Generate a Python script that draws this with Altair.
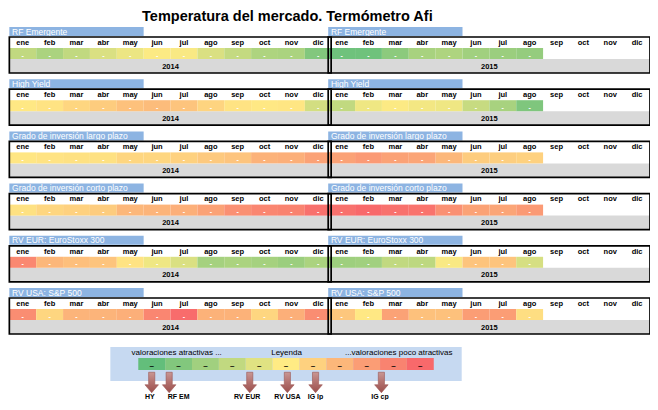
import altair as alt
import pandas as pd

# ---------------- data ----------------
months = ["ene", "feb", "mar", "abr", "may", "jun", "jul", "ago", "sep", "oct", "nov", "dic"]
years = ["2014", "2015"]
series = [
    "RF Emergente",
    "High Yield",
    "Grado de inversión largo plazo",
    "Grado de inversión corto plazo",
    "RV EUR: EuroStoxx 300",
    "RV USA: S&P 500",
]

# temperature level: 1 = very attractive (green) ... 6 = neutral (yellow) ... 11 = unattractive (red)
rf_em_2014 = [4.0, 3.3, 4.0, 4.8, 5.4, 5.9, 5.8, 4.8, 4.1, 3.4, 3.3, 2.0]
rf_em_2015 = [1.4, 1.4, 2.3, 3.2, 3.4, 3.0, 2.8, 2.6]
hy_2014 = [6.1, 6.3, 6.8, 7.2, 7.6, 7.8, 7.5, 6.9, 6.3, 6.1, 6.2, 4.6]
hy_2015 = [4.0, 5.5, 5.9, 5.6, 5.5, 4.2, 3.2, 1.9]
iglp_2014 = [6.2, 6.3, 6.4, 6.4, 6.8, 6.8, 7.0, 7.3, 7.5, 8.2, 8.3, 8.8]
iglp_2015 = [8.8, 9.1, 8.8, 8.7, 8.0, 7.2, 7.1, 7.0]
igcp_2014 = [6.4, 6.8, 7.0, 7.2, 8.0, 8.1, 8.3, 8.8, 9.5, 9.9, 10.0, 10.7]
igcp_2015 = [10.7, 11.0, 10.7, 10.6, 9.5, 8.8, 8.7, 9.1]
rveur_2014 = [9.8, 8.0, 7.7, 7.5, 6.3, 5.5, 4.8, 3.1, 3.3, 3.1, 2.8, 3.3]
rveur_2015 = [2.9, 3.0, 4.0, 3.9, 5.8, 7.5, 7.5, 4.7]
rvusa_2014 = [9.6, 6.8, 8.1, 8.1, 8.3, 9.9, 10.9, 8.2, 8.2, 6.8, 8.3, 9.6]
rvusa_2015 = [7.4, 6.1, 8.8, 7.6, 7.6, 9.0, 9.0, 6.5]

values_2014 = [rf_em_2014, hy_2014, iglp_2014, igcp_2014, rveur_2014, rvusa_2014]
values_2015 = [rf_em_2015, hy_2015, iglp_2015, igcp_2015, rveur_2015, rvusa_2015]

legend_levels = list(range(1, 12))
arrow_labels = ["HY", "RF EM", "RV EUR", "RV USA", "IG lp", "IG cp"]
arrow_levels = [1.0, 1.65, 4.65, 6.05, 7.1, 9.55]
arrow_label_levels = [0.93, 2.0, 4.55, 6.05, 7.1, 9.5]

title_text = "Temperatura del mercado. Termómetro Afi"
legend_left = "valoraciones atractivas ..."
legend_mid = "Leyenda"
legend_right = "...valoraciones poco atractivas"

# ---------------- layout ----------------
W, H = 642, 392
BOX0, PITCH = 29.0, 52.2          # box top of first block, block pitch
LEG_X0 = 5.0                      # first legend cell (in month-cell units)
FONT = "Liberation Sans"

xs = alt.Scale(domain=[0.15, 24.05], nice=False, zero=False)
ys = alt.Scale(domain=[0, H], nice=False, zero=False, reverse=True)


def X(f="x"):
    return alt.X(f"{f}:Q", scale=xs, axis=None)


def Y(f="y"):
    return alt.Y(f"{f}:Q", scale=ys, axis=None)


color_scale = alt.Scale(domain=[1, 6, 11], range=["#63BE7B", "#FFEB84", "#F8696B"], interpolate="rgb")

label_rows, band_rows, month_rows, cell_rows = [], [], [], []
for r, name in enumerate(series):
    top = BOX0 + PITCH * r
    for p, yr in enumerate(years):
        vals = values_2014[r] if p == 0 else values_2015[r]
        x0 = p * 12 + 0.2
        x0 = 0.2 if p == 0 else 12.07
        label_rows.append(dict(x=x0, x2=x0 + 5, y=top - 10, y2=top - 1,
                               tx=x0 + 0.1, ty=top - 5.5, text=name))
        band_rows.append(dict(x=x0, x2=x0 + 11.98, y=top + 22, y2=top + 36,
                              by=top, tx=x0 + 6, ty=top + 29.5, text=yr))
        for m, mon in enumerate(months):
            month_rows.append(dict(x=x0 + m + 0.5, y=top + 5.8, text=mon))
        for m, v in enumerate(vals):
            cell_rows.append(dict(x=x0 + m, x2=x0 + m + 1, y=top + 11, y2=top + 22,
                                  cx=x0 + m + 0.5, cy=top + 18.5, value=v))

labels_df = pd.DataFrame(label_rows)
bands_df = pd.DataFrame(band_rows)
months_df = pd.DataFrame(month_rows)
cells_df = pd.DataFrame(cell_rows)

leg_cells_df = pd.DataFrame(dict(
    x=[LEG_X0 + k - 1 for k in legend_levels],
    x2=[LEG_X0 + k for k in legend_levels],
    cx=[LEG_X0 + k - 0.5 for k in legend_levels],
    y=[350.0] * 11, y2=[362.0] * 11, cy=[357.5] * 11,
    value=legend_levels,
))
leg_band_df = pd.DataFrame(dict(x=[LEG_X0 - 1.04], x2=[LEG_X0 + 12.04], y=[339.0], y2=[373.0]))
leg_left_df = pd.DataFrame(dict(x=[LEG_X0 - 0.25], y=[345.0], text=[legend_left]))
leg_mid_df = pd.DataFrame(dict(x=[LEG_X0 + 5.52], y=[345.0], text=[legend_mid]))
leg_right_df = pd.DataFrame(dict(x=[LEG_X0 + 11.7], y=[345.0], text=[legend_right]))
arrows_df = pd.DataFrame(dict(
    x=[LEG_X0 - 0.5 + v for v in arrow_levels],
    lx=[LEG_X0 - 0.5 + v for v in arrow_label_levels],
    y=[374.5] * len(arrow_levels),
    ly=[388.5] * len(arrow_levels),
    text=arrow_labels,
))
title_df = pd.DataFrame(dict(x=[10.55], y=[8.5], text=[title_text]))

# ---------------- layers ----------------
label_bars = alt.Chart(labels_df).mark_rect(color="#8DB4E2").encode(
    x=X(), x2="x2", y=Y(), y2="y2")
label_text = alt.Chart(labels_df).mark_text(
    align="left", baseline="middle", color="white", font=FONT, fontSize=8.5
).encode(x=X("tx"), y=Y("ty"), text="text:N")

year_bands = alt.Chart(bands_df).mark_rect(color="#D9D9D9").encode(
    x=X(), x2="x2", y=Y(), y2="y2")
year_text = alt.Chart(bands_df).mark_text(
    align="center", baseline="middle", color="black", font=FONT, fontSize=7.5, fontWeight="bold"
).encode(x=X("tx"), y=Y("ty"), text="text:N")

cells = alt.Chart(cells_df).mark_rect().encode(
    x=X(), x2="x2", y=Y(), y2="y2",
    color=alt.Color("value:Q", scale=color_scale, legend=None))
cell_marks = alt.Chart(cells_df).mark_text(
    align="center", baseline="middle", color="white", font=FONT, fontSize=7, fontWeight="bold"
).encode(x=X("cx"), y=Y("cy"), text=alt.value("-"))

month_text = alt.Chart(months_df).mark_text(
    align="center", baseline="middle", color="black", font=FONT, fontSize=7.5, fontWeight="bold"
).encode(x=X(), y=Y(), text="text:N")

boxes = alt.Chart(bands_df).mark_rect(fill=None, stroke="black", strokeWidth=1.7).encode(
    x=X(), x2="x2", y=Y("by"), y2="y2")

title = alt.Chart(title_df).mark_text(
    align="center", baseline="middle", color="black", font=FONT, fontSize=14.5, fontWeight="bold"
).encode(x=X(), y=Y(), text="text:N")

leg_band = alt.Chart(leg_band_df).mark_rect(color="#C6D9F1").encode(
    x=X(), x2="x2", y=Y(), y2="y2")
leg_cells = alt.Chart(leg_cells_df).mark_rect().encode(
    x=X(), x2="x2", y=Y(), y2="y2",
    color=alt.Color("value:Q", scale=color_scale, legend=None))
leg_marks = alt.Chart(leg_cells_df).mark_text(
    align="center", baseline="middle", color="black", font=FONT, fontSize=8, fontWeight="bold"
).encode(x=X("cx"), y=Y("cy"), text=alt.value("–"))


def leg_txt(df, align):
    return alt.Chart(df).mark_text(
        align=align, baseline="middle", color="black", font=FONT, fontSize=8
    ).encode(x=X(), y=Y(), text="text:N")


leg_left = leg_txt(leg_left_df, "left")
leg_mid = leg_txt(leg_mid_df, "center")
leg_right = leg_txt(leg_right_df, "right")

arrow_fill = alt.LinearGradient(
    gradient="linear", x1=0, y1=0, x2=0, y2=1,
    stops=[alt.GradientStop(color="#C99794", offset=0),
           alt.GradientStop(color="#B2706D", offset=0.5),
           alt.GradientStop(color="#9C4F4C", offset=1)])
arrow_path = "M-0.3,-1L0.3,-1L0.3,0.22L0.66,0.22L0,1L-0.66,0.22L-0.3,0.22Z"
arrows = alt.Chart(arrows_df).mark_point(
    shape=arrow_path, size=420, filled=True, fill=arrow_fill, stroke="#9A5552",
    strokeWidth=0.6, opacity=1
).encode(x=X(), y=Y())
arrow_text = alt.Chart(arrows_df).mark_text(
    align="center", baseline="middle", color="black", font=FONT, fontSize=7, fontWeight="bold"
).encode(x=X("lx"), y=Y("ly"), text="text:N")

chart = alt.layer(
    label_bars, label_text, year_bands, cells, cell_marks, month_text, year_text, boxes,
    title, leg_band, leg_cells, leg_marks, leg_left, leg_mid, leg_right, arrows, arrow_text
).properties(
    width=W, height=H, padding=0, autosize="none", background="white"
).configure_view(stroke=None)

chart.save("out.html", embed_options={"renderer": "svg", "actions": False})
